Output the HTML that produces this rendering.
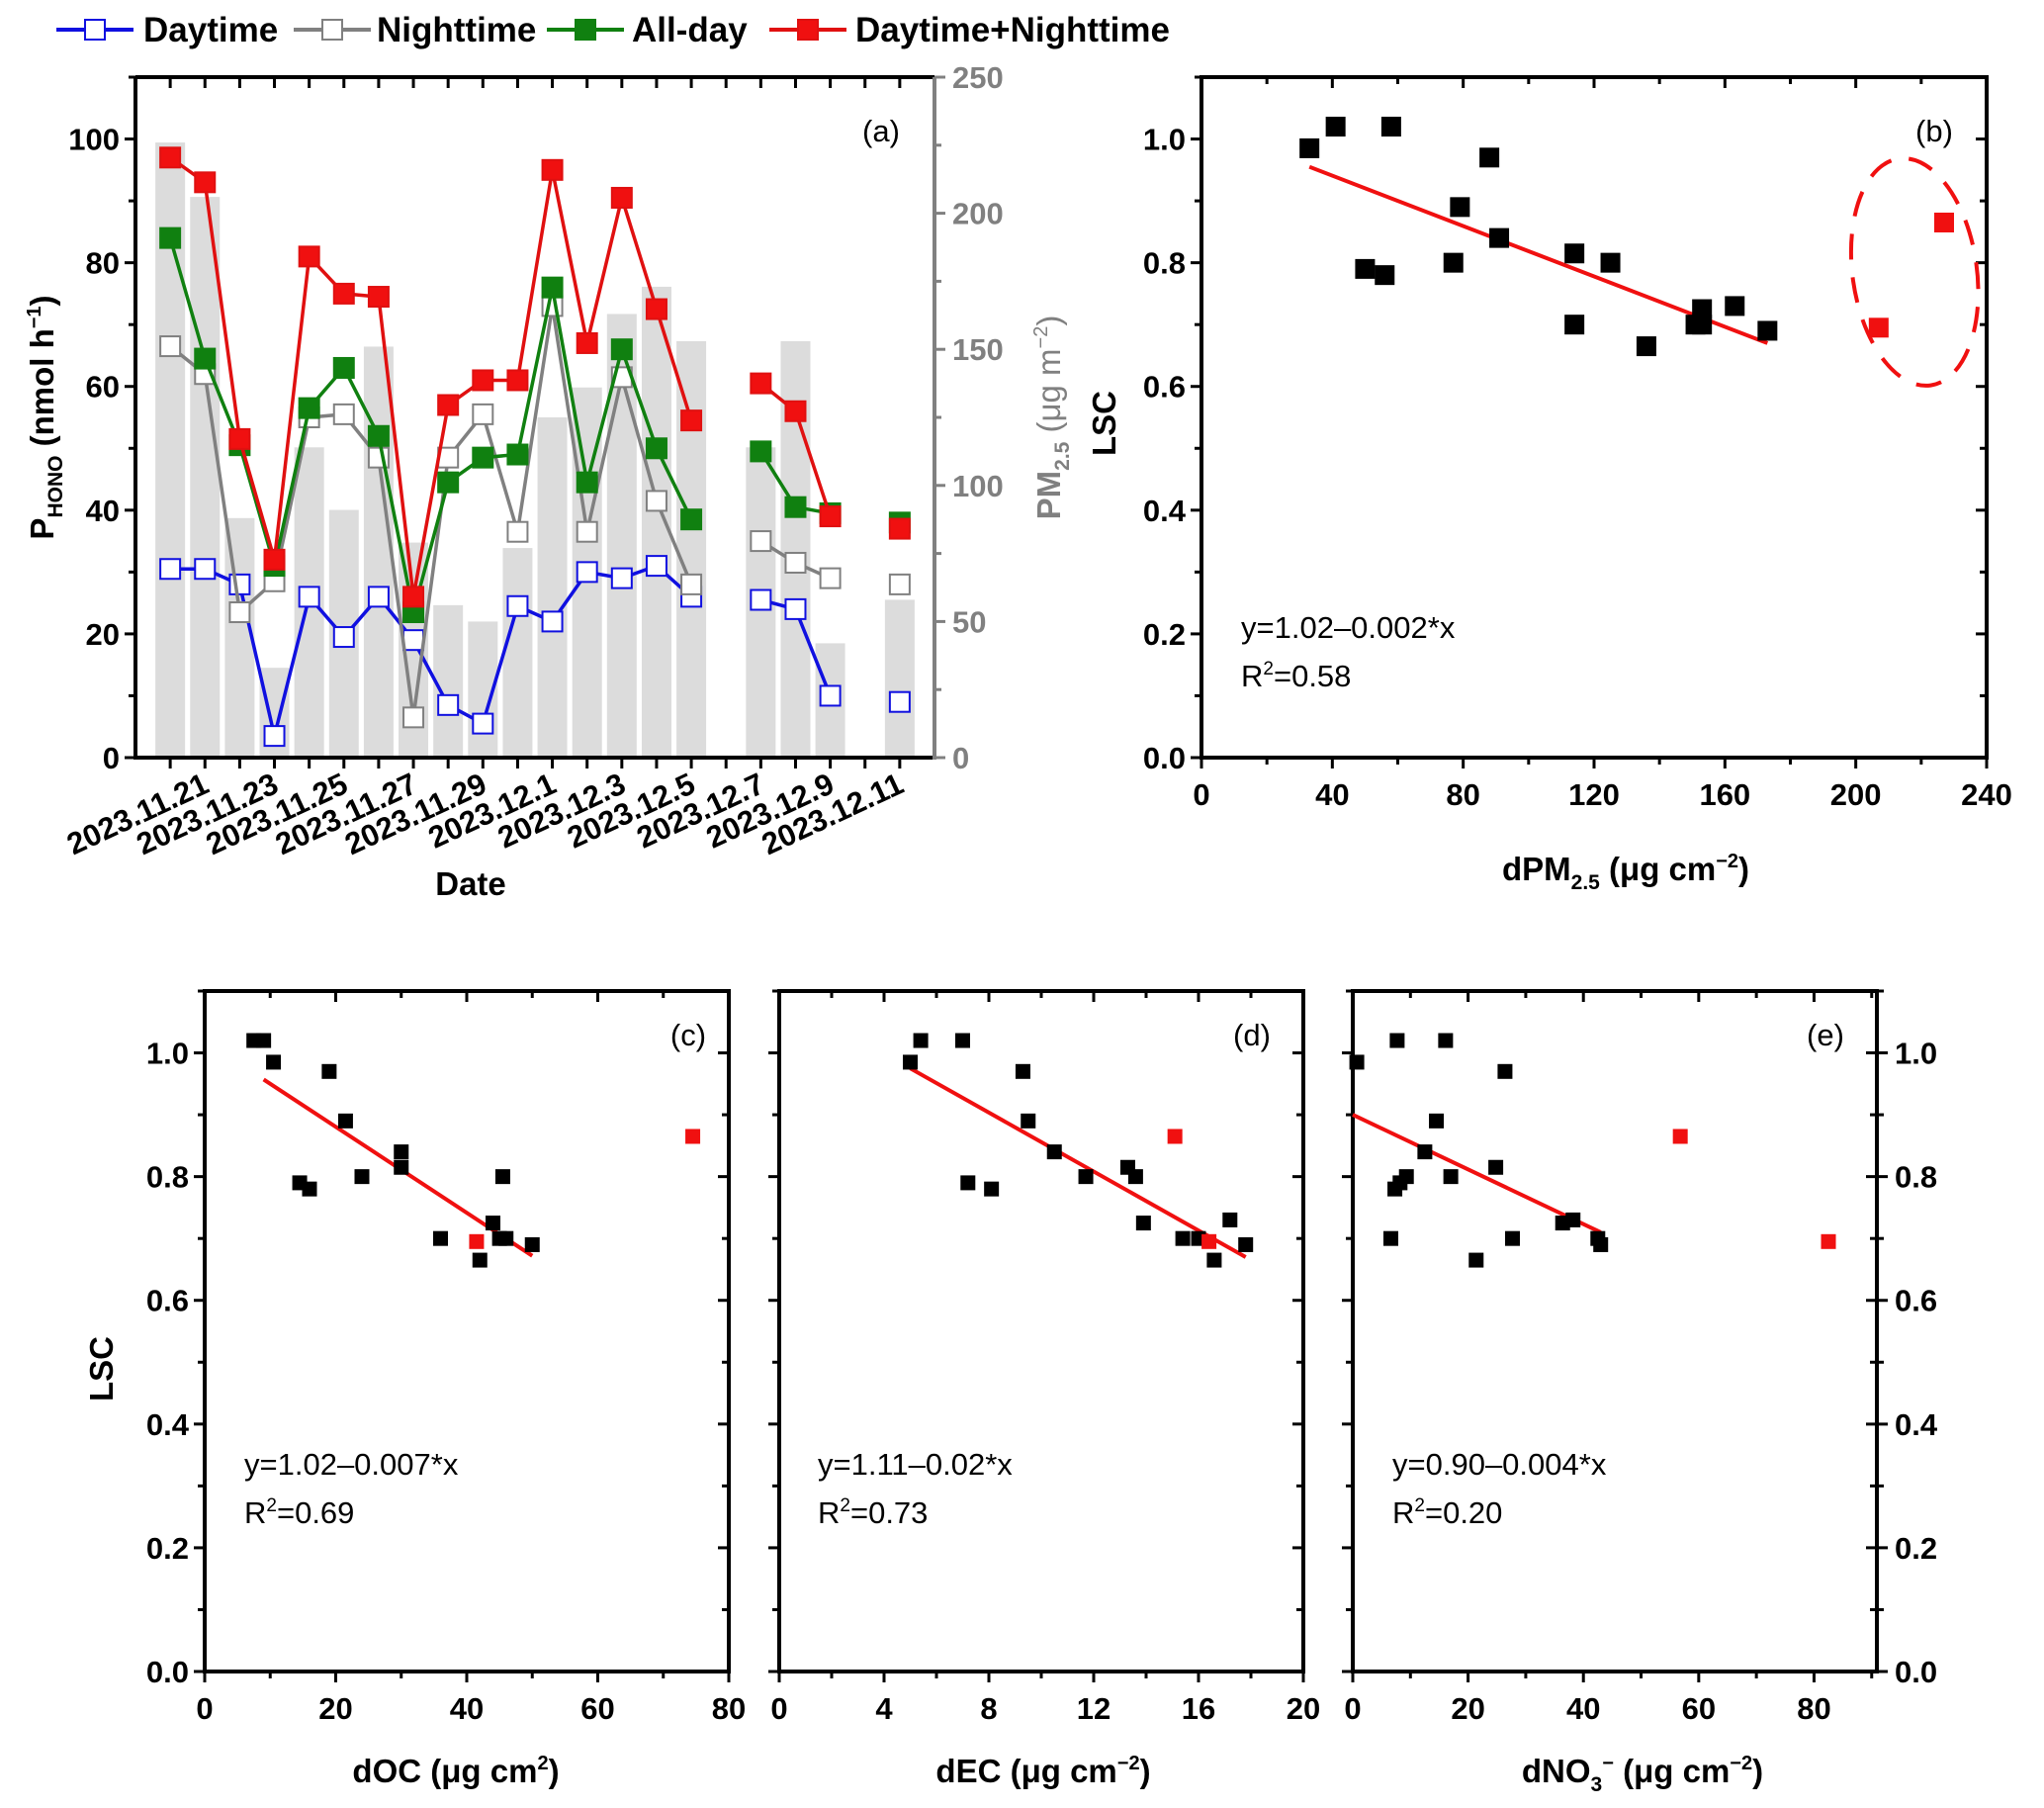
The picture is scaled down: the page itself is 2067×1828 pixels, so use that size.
<!DOCTYPE html>
<html><head><meta charset="utf-8"><style>
html,body{margin:0;padding:0;background:#fff}
svg{display:block}
text{font-family:"Liberation Sans",Arial,sans-serif}
.tl{font-weight:bold;font-size:31px}
.tt{font-weight:bold;font-size:33px}
.an{font-size:31px}
</style></head><body>
<svg id="s" width="2067" height="1828" viewBox="0 0 2067 1828" xmlns="http://www.w3.org/2000/svg"></svg>
<script>
// ---- Panel (a) data ----
const dateLabels=["2023.11.21","2023.11.23","2023.11.25","2023.11.27","2023.11.29","2023.12.1","2023.12.3","2023.12.5","2023.12.7","2023.12.9","2023.12.11"];
const pm25=[226,206,88,33,114,91,151,79,56,50,77,125,136,163,173,153,null,114,153,42,null,58];
const daytime=[30.5,30.5,28,3.5,26,19.5,26,19,8.5,5.5,24.5,22,30,29,31,26,null,25.5,24,10,null,9];
const nighttime=[66.5,62,23.5,28.5,55,55.5,48.5,6.5,48.5,55.5,36.5,73,36.5,61.5,41.5,28,null,35,31.5,29,null,28];
const allday=[84,64.5,50.5,31,56.5,63,52,23.5,44.5,48.5,49,76,44.5,66,50,38.5,null,49.5,40.5,39.5,null,38];
const dayNight=[97,93,51.5,32,81,75,74.5,26,57,61,61,95,67,90.5,72.5,54.5,null,60.5,56,39,null,37];
// ---- Panel (b) ----
const bX=[33,41,50,56,58,77,79,88,91,114,114,125,136,151,153,153,163,173];
const bY=[0.985,1.02,0.79,0.78,1.02,0.80,0.89,0.97,0.84,0.815,0.70,0.80,0.665,0.70,0.725,0.70,0.73,0.69];
const bRedX=[207,227];const bRedY=[0.695,0.865];
const bFitX=[33,173];const bFitY=[0.955,0.67];
// ---- Panel (c) ----
const cX=[7.5,9,10.5,14.5,16,19,21.5,24,30,30,36,42,44,45,45.5,46,50];
const cY=[1.02,1.02,0.985,0.79,0.78,0.97,0.89,0.80,0.84,0.815,0.70,0.665,0.725,0.70,0.80,0.70,0.69];
const cRedX=[41.5,74.5];const cRedY=[0.695,0.865];
const cFitX=[9,50];const cFitY=[0.957,0.672];
// ---- Panel (d) ----
const dX=[5,5.4,7,7.2,8.1,9.3,9.5,10.5,11.7,13.3,13.6,13.9,15.4,16,16.6,17.2,17.8];
const dY=[0.985,1.02,1.02,0.79,0.78,0.97,0.89,0.84,0.80,0.815,0.80,0.725,0.70,0.70,0.665,0.73,0.69];
const dRedX=[15.1,16.4];const dRedY=[0.865,0.695];
const dFitX=[5,17.8];const dFitY=[0.975,0.67];
// ---- Panel (e) ----
const eX=[0.7,6.6,7.3,7.7,8.2,9.3,12.5,14.5,16.1,17.0,24.8,26.4,27.7,21.4,36.4,38.2,42.5,43];
const eY=[0.985,0.70,0.78,1.02,0.79,0.80,0.84,0.89,1.02,0.80,0.815,0.97,0.70,0.665,0.725,0.73,0.70,0.69];
const eRedX=[56.8,82.5];const eRedY=[0.865,0.695];
const eFitX=[0,43];const eFitY=[0.90,0.71];

const S=document.getElementById('s');const NS='http://www.w3.org/2000/svg';
function mk(tag,attrs,parent,txt){const e=document.createElementNS(NS,tag);for(const k in attrs)e.setAttribute(k,attrs[k]);if(txt!==undefined)e.textContent=txt;(parent||S).appendChild(e);return e;}
function lin(d0,d1,r0,r1){return v=>r0+(v-d0)/(d1-d0)*(r1-r0);}

// ===== Panel (a) =====
const ga=mk('g',{});


const aL=137,aR=945,aT=78,aB=766;
const ax=lin(0,23,aL,aR), ay=lin(0,110,aB,aT), ay2=lin(0,250,aB,aT);
pm25.forEach((v,i)=>{if(v==null)return;const cx=ax(i+1);
 const r=mk('rect',{x:cx-15,y:ay2(v),width:30,height:aB-ay2(v),fill:'#dcdcdc'},ga);
 
 });
function series(vals,color,fill,name){
 const g=mk('g',{},ga);
 
 
 let seg=[];const segs=[];
 vals.forEach((v,i)=>{if(v==null){if(seg.length)segs.push(seg);seg=[];}else seg.push([ax(i+1),ay(v)]);});
 if(seg.length)segs.push(seg);
 segs.forEach(s=>{if(s.length>1)mk('polyline',{points:s.map(p=>p.join(',')).join(' '),fill:'none',stroke:color,'stroke-width':3.5},g);});
 vals.forEach((v,i)=>{if(v==null)return;
  const r=mk('rect',{x:ax(i+1)-10,y:ay(v)-10,width:20,height:20,fill:fill,stroke:color,'stroke-width':2},g);
  
  });
}
series(daytime,'#1010e0','#fff','daytime');
series(nighttime,'#808080','#fff','nighttime');
series(allday,'#108010','#108010','allday');
series(dayNight,'#e01010','#f01010','daytime-nighttime');
mk('line',{x1:aL,y1:aT,x2:aR,y2:aT,stroke:'#000','stroke-width':4},ga);
mk('line',{x1:aL,y1:aB,x2:aR,y2:aB,stroke:'#000','stroke-width':4},ga);
mk('line',{x1:aL,y1:aT,x2:aL,y2:aB+2,stroke:'#000','stroke-width':4},ga);
mk('line',{x1:aR,y1:aT,x2:aR,y2:aB+2,stroke:'#808080','stroke-width':4},ga);
for(let v=0;v<=110;v+=10){const y=ay(v);mk('line',{x1:aL-(v%20==0?11:7),y1:y,x2:aL,y2:y,stroke:'#000','stroke-width':3},ga);
 if(v%20==0&&v<=100)mk('text',{x:aL-16,y:y+11,'text-anchor':'end',class:'tl'},ga,v);}
for(let v=0;v<=250;v+=25){const y=ay2(v);mk('line',{x1:aR,y1:y,x2:aR+(v%50==0?11:7),y2:y,stroke:'#808080','stroke-width':3},ga);
 if(v%50==0)mk('text',{x:aR+18,y:y+11,class:'tl',fill:'#808080'},ga,v);}
for(let d=1;d<=22;d++){const x=ax(d);
 mk('line',{x1:x,y1:aB,x2:x,y2:aB+11,stroke:'#000','stroke-width':3},ga);
 mk('line',{x1:x,y1:aT,x2:x,y2:aT+11,stroke:'#000','stroke-width':3},ga);}
dateLabels.forEach((l,k)=>{const x=ax(2+2*k);
 const t=mk('text',{x:x+6,y:aB+34,'text-anchor':'end',class:'tl','font-size':'30px',transform:`rotate(-25 ${x+6} ${aB+34})`},ga,l);
 
 });
mk('text',{x:891,y:143,class:'an','text-anchor':'middle'},ga,'(a)');
let t=mk('text',{x:476,y:905,class:'tt','text-anchor':'middle'},ga,'Date');


t=mk('text',{transform:'translate(54,422) rotate(-90)',class:'tt','text-anchor':'middle'},ga);


t.innerHTML='P<tspan font-size="21" dy="9">HONO</tspan><tspan dy="-9">  (nmol h</tspan><tspan font-size="20" dy="-13">−1</tspan><tspan dy="13">)</tspan>';
t=mk('text',{transform:'translate(1072,422) rotate(-90)',class:'tt','text-anchor':'middle',fill:'#808080'},ga);


t.innerHTML='PM<tspan font-size="21" dy="9">2.5</tspan><tspan dy="-9" font-weight="normal"> (μg m</tspan><tspan font-size="20" dy="-13" font-weight="normal">−2</tspan><tspan dy="13" font-weight="normal">)</tspan>';

// legend
const lg=mk('g',{});


[[57,145,'#1010e0','#fff','Daytime'],[297,381,'#808080','#fff','Nighttime'],[553,639,'#108010','#108010','All-day'],[778,865,'#e01010','#f01010','Daytime+Nighttime']].forEach(([x,tx,c,f,l])=>{
 const g=mk('g',{},lg);
 
 
 mk('line',{x1:x,y1:30,x2:x+78,y2:30,stroke:c,'stroke-width':4},g);
 mk('rect',{x:x+29,y:20,width:20,height:20,fill:f,stroke:c,'stroke-width':2},g);
 mk('text',{x:tx,y:42,'font-weight':'bold','font-size':'35px'},g,l);});

// ===== scatter panels =====
function scatter(name,L,R,T,B,xmax,xmin,xticks,xminor,leftLabels,rightLabels,px,py,rx,ry,fx,fy,ms,lbl,lblX,lblY,eq,eqX,eqY,r2,xt,xtX,xtY){
 const g=mk('g',{});
 
 
 const sx=lin(xmin,xmax,L,R), sy=lin(0,1.1,B,T);
 mk('rect',{x:L,y:T,width:R-L,height:B-T,fill:'none',stroke:'#000','stroke-width':4},g);
 for(let v=0;v<=1.1001;v+=0.1){const y=sy(v);const maj=Math.round(v*10)%2==0;
  mk('line',{x1:L-(maj?11:7),y1:y,x2:L,y2:y,stroke:'#000','stroke-width':3},g);
  mk('line',{x1:R-(maj?11:7),y1:y,x2:R+(rightLabels?(maj?11:7):0),y2:y,stroke:'#000','stroke-width':3},g);
  if(maj&&v<1.05){
   if(leftLabels)mk('text',{x:L-16,y:y+11,'text-anchor':'end',class:'tl'},g,v.toFixed(1));
   if(rightLabels)mk('text',{x:R+18,y:y+11,class:'tl'},g,v.toFixed(1));}}
 xticks.forEach(v=>{const x=sx(v);mk('line',{x1:x,y1:B,x2:x,y2:B+11,stroke:'#000','stroke-width':3},g);
  mk('line',{x1:x,y1:T,x2:x,y2:T+11,stroke:'#000','stroke-width':3},g);
  mk('text',{x:x,y:B+48,'text-anchor':'middle',class:'tl'},g,v);});
 xminor.forEach(v=>{const x=sx(v);mk('line',{x1:x,y1:B,x2:x,y2:B+7,stroke:'#000','stroke-width':3},g);
  mk('line',{x1:x,y1:T,x2:x,y2:T+7,stroke:'#000','stroke-width':3},g);});
 const fl=mk('line',{x1:sx(fx[0]),y1:sy(fy[0]),x2:sx(fx[1]),y2:sy(fy[1]),stroke:'#f01010','stroke-width':4},g);
 
 
 px.forEach((v,i)=>{const r=mk('rect',{x:sx(v)-ms/2,y:sy(py[i])-ms/2,width:ms,height:ms,fill:'#000'},g);
  
  });
 rx.forEach((v,i)=>{const r=mk('rect',{x:sx(v)-ms/2,y:sy(ry[i])-ms/2,width:ms,height:ms,fill:'#f01010'},g);
  
  });
 mk('text',{x:lblX,y:lblY,class:'an','text-anchor':'middle'},g,lbl);
 mk('text',{x:eqX,y:eqY,class:'an'},g,eq);
 const rt=mk('text',{x:eqX,y:eqY+49,class:'an'},g);
 rt.innerHTML='R<tspan font-size="19" dy="-12">2</tspan><tspan dy="12">='+r2+'</tspan>';
 const xa=mk('text',{x:xtX,y:xtY,class:'tt','text-anchor':'middle'},g);
 
 
 xa.innerHTML=xt;
 return {g,sx,sy};
}
const b=scatter('b',1215,2009,78,766,240,0,[0,40,80,120,160,200,240],[20,60,100,140,180,220],true,false,bX,bY,bRedX,bRedY,bFitX,bFitY,20,'(b)',1956,143,'y=1.02–0.002*x',1255,645,'0.58',
 'dPM<tspan font-size="21" dy="9">2.5</tspan><tspan dy="-9"> (μg cm</tspan><tspan font-size="20" dy="-13">−2</tspan><tspan dy="13">)</tspan>',1644,890);
const el=mk('ellipse',{cx:b.sx(218),cy:b.sy(0.785),rx:b.sx(218)-b.sx(199),ry:b.sy(0.6)-b.sy(0.785),fill:'none',stroke:'#f01010','stroke-width':4,'stroke-dasharray':'26,18',transform:`rotate(-8 ${b.sx(218)} ${b.sy(0.785)})`},b.g);


t=mk('text',{transform:'translate(1128,428) rotate(-90)',class:'tt','text-anchor':'middle'},b.g,'LSC');



scatter('c',207,737,1002,1690,80,0,[0,20,40,60,80],[10,30,50,70],true,false,cX,cY,cRedX,cRedY,cFitX,cFitY,15,'(c)',696,1057,'y=1.02–0.007*x',247,1491,'0.69',
 'dOC (μg cm<tspan font-size="20" dy="-13">2</tspan><tspan dy="13">)</tspan>',461,1802);
scatter('d',788,1318,1002,1690,20,0,[0,4,8,12,16,20],[2,6,10,14,18],false,false,dX,dY,dRedX,dRedY,dFitX,dFitY,15,'(d)',1266,1057,'y=1.11–0.02*x',827,1491,'0.73',
 'dEC (μg cm<tspan font-size="20" dy="-13">−2</tspan><tspan dy="13">)</tspan>',1055,1802);
scatter('e',1368,1898,1002,1690,90.9,0,[0,20,40,60,80],[10,30,50,70,90],false,true,eX,eY,eRedX,eRedY,eFitX,eFitY,15,'(e)',1846,1057,'y=0.90–0.004*x',1408,1491,'0.20',
 'dNO<tspan font-size="21" dy="9">3</tspan><tspan font-size="20" dy="-22">−</tspan><tspan dy="13"> (μg cm</tspan><tspan font-size="20" dy="-13">−2</tspan><tspan dy="13">)</tspan>',1661,1802);
t=mk('text',{transform:'translate(114,1384) rotate(-90)',class:'tt','text-anchor':'middle'},S,'LSC');


</script>
</body></html>
